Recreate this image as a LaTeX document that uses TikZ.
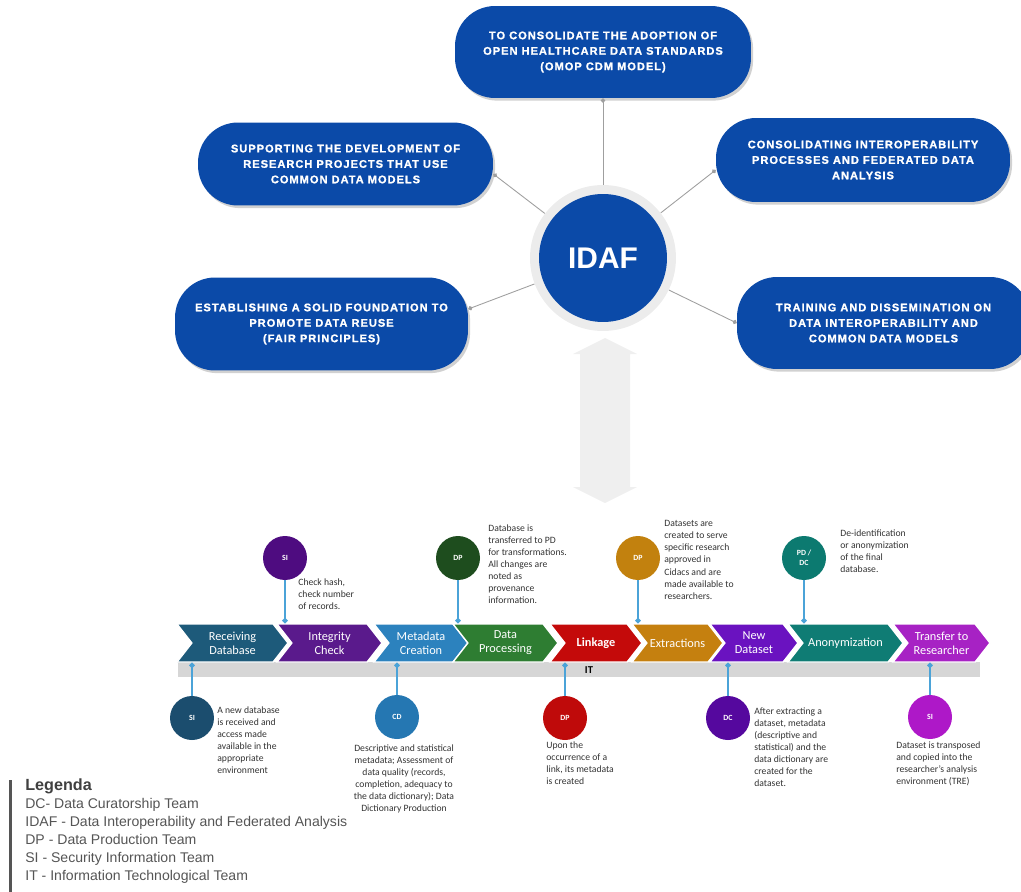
\documentclass[tikz,border=0pt]{standalone}
\usepackage{fontspec}
\setmainfont{Carlito}
\newfontfamily\goalfont[LetterSpace=9, BoldFeatures={FakeBold=1.2}]{Liberation Sans}
\newfontfamily\legfont{Liberation Sans}
\usetikzlibrary{positioning,arrows.meta,shapes.symbols,shadows}

\definecolor{idafblue}{HTML}{0B4AA8}
\definecolor{ringgray}{HTML}{ECECEC}
\definecolor{flowgray}{HTML}{EFEFEF}
\definecolor{itgray}{HTML}{D6D6D6}
\definecolor{tickblue}{HTML}{4BA3D8}
\definecolor{notegray}{HTML}{333333}
\definecolor{leggray}{HTML}{555555}
% stage colours
\definecolor{recvcol}{HTML}{1D5A7A}
\definecolor{integcol}{HTML}{5A1A8C}
\definecolor{metacol}{HTML}{2C82BE}
\definecolor{proccol}{HTML}{2E7D32}
\definecolor{linkcol}{HTML}{C40A0A}
\definecolor{extrcol}{HTML}{C5800F}
\definecolor{newcol}{HTML}{6A12C0}
\definecolor{anoncol}{HTML}{0F7C74}
\definecolor{transcol}{HTML}{A722C4}
% team colours
\definecolor{siAcol}{HTML}{1B4D6E}
\definecolor{siBcol}{HTML}{4E0C80}
\definecolor{cdcol}{HTML}{2577B2}
\definecolor{dpAcol}{HTML}{1E4D1E}
\definecolor{dpBcol}{HTML}{BF0A0A}
\definecolor{dpCcol}{HTML}{C2810E}
\definecolor{dccol}{HTML}{55089E}
\definecolor{pdcol}{HTML}{0C7A70}
\definecolor{siCcol}{HTML}{AE18C8}

\begin{document}
\begin{tikzpicture}[x=0.02cm, y=-0.02cm,
  goal/.style={fill=idafblue, rounded corners=0.8cm, text=white, align=center, inner sep=0pt,
    font=\goalfont\bfseries\fontsize{6.3}{8.8}\selectfont,
    drop shadow={shadow xshift=1.2pt, shadow yshift=-1.5pt, fill=black!40, opacity=.45}},
  link/.style={draw=gray!75, line width=0.5pt, -{Circle[length=2.5pt]}},
  stage/.style={signal, signal to=east, signal from=west, signal pointer angle=104,
    draw=white, line width=0.8pt, minimum height=0.76cm, inner sep=0pt, text=white,
    align=center, font=\fontsize{7}{8}\selectfont},
  team/.style={circle, minimum size=0.88cm, inner sep=0pt, text=white, align=center,
    font=\bfseries\fontsize{4.5}{5.5}\selectfont},
  tick/.style={draw=tickblue, line width=0.9pt, -{Circle[length=3pt]}},
  note/.style={text=notegray, align=left, inner sep=0pt, font=\fontsize{5.5}{6.9}\selectfont}]
\useasboundingbox (0,0) rectangle (1021,892);

% IDAF and its goals
\node[circle, fill=ringgray, minimum size=2.92cm] (idafring) at (603,258) {};
\node[circle, fill=idafblue, minimum size=2.56cm, text=white,
  font=\legfont\bfseries\fontsize{17}{17}\selectfont] (idaf) at (603,258) {IDAF};
\node[goal, minimum width=5.92cm, minimum height=1.84cm] (goalT) at (603,52)
  {TO CONSOLIDATE THE ADOPTION OF\\OPEN HEALTHCARE DATA STANDARDS\\(OMOP CDM MODEL)};
\node[goal, minimum width=5.9cm, minimum height=1.66cm] (goalUL) at (345.5,164)
  {SUPPORTING THE DEVELOPMENT OF\\RESEARCH PROJECTS THAT USE\\COMMON DATA MODELS};
\node[goal, minimum width=5.88cm, minimum height=1.68cm] (goalUR) at (863,160)
  {CONSOLIDATING INTEROPERABILITY\\PROCESSES AND FEDERATED DATA\\ANALYSIS};
\node[goal, minimum width=5.86cm, minimum height=1.86cm] (goalLL) at (321.5,324)
  {ESTABLISHING A SOLID FOUNDATION TO\\PROMOTE DATA REUSE\\(FAIR PRINCIPLES)};
\node[goal, minimum width=5.86cm, minimum height=1.84cm] (goalLR) at (883.5,323)
  {TRAINING AND DISSEMINATION ON\\DATA INTEROPERABILITY AND\\COMMON DATA MODELS};
\draw[link] (idafring) -- (goalT.south);
\draw[link] (idafring) -- ([yshift=-0.2cm]goalUL.east);
\draw[link] (idafring) -- ([yshift=-0.2cm]goalUR.west);
\draw[link] (idafring) -- ([yshift=0.3cm]goalLL.east);
\draw[link] (idafring) -- (goalLR.west);

% big double arrow
\fill[flowgray] (605,338) -- (637,354) -- (630,354) -- (630,487) -- (637,487) -- (605,503)
  -- (573,487) -- (580,487) -- (580,354) -- (573,354) -- cycle;

% pipeline
\node[fill=itgray, minimum width=16.04cm, minimum height=0.3cm, inner sep=0pt] (itbar) at (579,669.5) {};
\node[font=\bfseries\fontsize{6}{6}\selectfont] (itlbl) at (589,670) {IT};
\node[stage, fill=recvcol, minimum width=2.22cm] (recv) at (232.5,643) {Receiving\\Database};
\node[stage, fill=integcol, minimum width=2.1cm] (integ) at (329.5,643) {Integrity\\Check};
\node[stage, fill=metacol, minimum width=1.88cm] (meta) at (421,643) {Metadata\\Creation};
\node[stage, fill=proccol, minimum width=2.1cm] (proc) at (505.5,643) {Data\\Processing};
\node[stage, fill=linkcol, minimum width=1.84cm, font=\bfseries\fontsize{7}{8}\selectfont] (linkage) at (596,643) {Linkage};
\node[stage, fill=extrcol, minimum width=1.82cm] (extr) at (677.5,643) {Extractions};
\node[stage, fill=newcol, minimum width=1.76cm] (newds) at (754,643) {New\\Dataset};
\node[stage, fill=anoncol, minimum width=2.3cm] (anon) at (845.5,643) {Anonymization};
\node[stage, fill=transcol, minimum width=1.94cm] (trans) at (941.5,643) {Transfer to\\Researcher};

% teams above
\node[team, fill=siBcol] (siB) at (285,558) {SI};
\node[team, fill=dpAcol] (dpA) at (458,558) {DP};
\node[team, fill=dpCcol] (dpC) at (638,558) {DP};
\node[team, fill=pdcol] (pddc) at (804,558) {PD /\\DC};
\draw[tick] (siB) -- (siB |- integ.north);
\draw[tick] (dpA) -- (dpA |- proc.north);
\draw[tick] (dpC) -- (dpC |- extr.north);
\draw[tick] (pddc) -- (pddc |- anon.north);
\node[note, anchor=north west] (noteSiB) at (298,578) {Check hash,\\check number\\of records.};
\node[note, anchor=north west] (noteDpA) at (488,524) {Database is\\transferred to PD\\for transformations.\\All changes are\\noted as\\provenance\\information.};
\node[note, anchor=north west] (noteDpC) at (664,520) {Datasets are\\created to serve\\specific research\\approved in\\Cidacs and are\\made available to\\researchers.};
\node[note, anchor=north west] (notePd) at (840,529) {De-identification\\or anonymization\\of the final\\database.};

% teams below
\node[team, fill=siAcol] (siA) at (192,718) {SI};
\node[team, fill=cdcol] (cd) at (397,717) {CD};
\node[team, fill=dpBcol] (dpB) at (565,718) {DP};
\node[team, fill=dccol] (dc) at (728,718) {DC};
\node[team, fill=siCcol] (siC) at (930,717) {SI};
\draw[tick] (siA) -- (siA |- recv.south);
\draw[tick] (cd) -- (cd |- meta.south);
\draw[tick] (dpB) -- (dpB |- linkage.south);
\draw[tick] (dc) -- (dc |- newds.south);
\draw[tick] (siC) -- (siC |- trans.south);
\node[note, anchor=north west] (noteSiA) at (217,706) {A new database\\is received and\\access made\\available in the\\appropriate\\environment};
\node[note, anchor=north, align=center] (noteCd) at (404,744) {Descriptive and statistical\\metadata; Assessment of\\data quality (records,\\completion, adequacy to\\the data dictionary); Data\\Dictionary Production};
\node[note, anchor=north west] (noteDpB) at (546,741) {Upon the\\occurrence of a\\link, its metadata\\is created};
\node[note, anchor=north west] (noteDc) at (754,707) {After extracting a\\dataset, metadata\\(descriptive and\\statistical) and the\\data dictionary are\\created for the\\dataset.};
\node[note, anchor=north west] (noteSiC) at (896,741) {Dataset is transposed\\and copied into the\\researcher's analysis\\environment (TRE)};

% legend
\fill[leggray] (8.5,780) rectangle (11.5,892);
\node[anchor=west, inner sep=0pt, text=black!75, font=\legfont\bfseries\fontsize{9.2}{10}\selectfont] (legtitle) at (25,786) {Legenda};
\node[anchor=north west, inner sep=0pt, align=left, text=leggray, font=\legfont\fontsize{8}{10.2}\selectfont] (legbody) at (25,798)
  {DC- Data Curatorship Team\\IDAF - Data Interoperability and Federated Analysis\\DP - Data Production Team\\SI - Security Information Team\\IT - Information Technological Team};
\end{tikzpicture}
\end{document}
